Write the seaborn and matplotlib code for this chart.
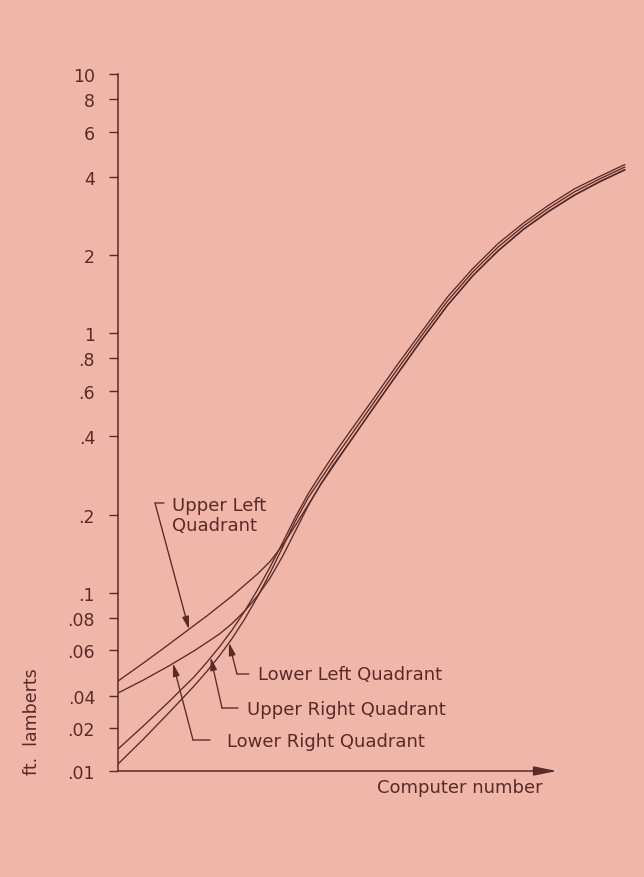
import numpy as np
import pandas as pd
import matplotlib
matplotlib.use("Agg")
import matplotlib.pyplot as plt
from matplotlib.ticker import NullLocator
import seaborn as sns

# ---------------- data ----------------
computer_number = [0, 5, 10, 15, 17.5, 20, 22.5, 25, 27.5, 30, 32.5, 35,
                   37.5, 40, 42.5, 45, 50, 55, 60, 65, 70, 75, 80, 85, 90, 95, 100]

upper_left = [0.0456, 0.0535, 0.0631, 0.0747, 0.0812, 0.0888, 0.0970, 0.1070,
              0.1179, 0.1318, 0.1526, 0.1815, 0.2177, 0.2611, 0.3077, 0.3627,
              0.5016, 0.6905, 0.9462, 1.280, 1.664, 2.077, 2.514, 2.949,
              3.400, 3.832, 4.263]
lower_right = [0.0410, 0.0460, 0.0521, 0.0596, 0.0642, 0.0692, 0.0760, 0.0849,
               0.0970, 0.1138, 0.1384, 0.1728, 0.2158, 0.2623, 0.3119, 0.3644,
               0.5038, 0.6936, 0.9505, 1.285, 1.671, 2.086, 2.525, 2.962,
               3.415, 3.849, 4.282]
upper_right = [0.0143, 0.0211, 0.0351, 0.0473, 0.0538, 0.0617, 0.0717, 0.0849,
               0.1023, 0.1255, 0.1561, 0.1957, 0.2401, 0.2866, 0.3394, 0.3982,
               0.5458, 0.7514, 1.0206, 1.380, 1.778, 2.220, 2.663, 3.124,
               3.602, 4.025, 4.476]
lower_left = [0.0112, 0.0168, 0.0278, 0.0436, 0.0496, 0.0570, 0.0665, 0.0791,
              0.0962, 0.1190, 0.1499, 0.1888, 0.2317, 0.2742, 0.3246, 0.3809,
              0.5244, 0.7219, 0.9849, 1.332, 1.724, 2.152, 2.593, 3.042,
              3.507, 3.936, 4.378]

tick_values = [10, 8, 6, 4, 2, 1, 0.8, 0.6, 0.4, 0.2, 0.1, 0.08, 0.06, 0.04, 0.02, 0.01]
tick_labels = ["10", "8", "6", "4", "2", "1", ".8", ".6", ".4", ".2",
               ".1", ".08", ".06", ".04", ".02", ".01"]

series = {
    "Upper Left Quadrant": upper_left,
    "Lower Right Quadrant": lower_right,
    "Upper Right Quadrant": upper_right,
    "Lower Left Quadrant": lower_left,
}

df = pd.concat(
    [pd.DataFrame({"cn": computer_number, "fl": vals, "quadrant": name})
     for name, vals in series.items()],
    ignore_index=True,
)

# ---------------- style ----------------
sns.set_theme(style="white")
plt.rcParams["font.family"] = ["DejaVu Sans"]

BG = "#F0B6A9"
INK = "#5A2A26"
W, H = 644, 878

fig = plt.figure(figsize=(W / 100, H / 100), dpi=100, facecolor=BG)
ax = fig.add_axes([118 / W, 1 - 772 / H, (635 - 118) / W, (772 - 75) / H])
ax.set_facecolor(BG)

# log axis whose bottom part (below .04) is compressed, as in the original
_lv = [-8.0, -2.0, np.log10(0.02), np.log10(0.04), 8.0]
_ax = [-4.958, -1.688, -1.524, -1.398, 8.0]


def fwd(v):
    v = np.clip(np.asarray(v, dtype=float), 1e-8, None)
    return np.interp(np.log10(v), _lv, _ax)


def inv(t):
    return 10 ** np.interp(np.asarray(t, dtype=float), _ax, _lv)


sns.lineplot(data=df, x="cn", y="fl", hue="quadrant",
             palette={k: INK for k in series}, legend=False,
             estimator=None, sort=True, linewidth=0.95, ax=ax)

ax.set_yscale("function", functions=(fwd, inv))
ax.set_ylim(0.01, 10)
ax.set_xlim(0, 102)
ax.set_yticks(tick_values)
ax.set_yticklabels(tick_labels)
ax.yaxis.set_minor_locator(NullLocator())
ax.set_xticks([])
ax.set_xlabel("")
ax.set_ylabel("")
ax.tick_params(axis="y", left=True, length=6.5, width=1.0, color=INK,
               pad=10, labelsize=12.5, labelcolor=INK, direction="out")
for s in ["top", "right", "bottom"]:
    ax.spines[s].set_visible(False)
ax.spines["left"].set_color(INK)
ax.spines["left"].set_linewidth(1.1)

# x axis drawn as an arrow
ax.annotate("", xy=(86.6, 0), xycoords=("data", "axes fraction"),
            xytext=(0, 0), textcoords=("data", "axes fraction"),
            arrowprops=dict(arrowstyle="-|>,head_length=1.4,head_width=0.28",
                            color=INK, lw=1.1, shrinkA=0, shrinkB=0,
                            mutation_scale=10),
            annotation_clip=False)


def fp(x, y):
    return (x / W, 1 - y / H)


fig.text(*fp(460, 788), "Computer number", ha="center", va="center",
         fontsize=13, color=INK)
fig.text(*fp(32, 722), "ft.  lamberts", ha="center", va="center",
         rotation=90, fontsize=12.5, color=INK)


def on_curve(name, x):
    xs = np.asarray(computer_number, float)
    ts = fwd(series[name])
    return (x, float(inv(np.interp(x, xs, ts))))


labels = [
    # name, tip x (computer number), corner px, end px, text px, text
    ("Upper Left Quadrant", 14.0, (155, 504), (164, 504), (172, 516), "Upper Left\nQuadrant"),
    ("Lower Left Quadrant", 21.9, (237, 675), (249, 675), (258, 675), "Lower Left Quadrant"),
    ("Upper Right Quadrant", 18.3, (222, 709), (238, 709), (247, 710), "Upper Right Quadrant"),
    ("Lower Right Quadrant", 10.85, (193, 741), (210, 741), (227, 742), "Lower Right Quadrant"),
]
for name, tx, corner, end, tpos, text in labels:
    ax.annotate("", xy=on_curve(name, tx), xycoords="data",
                xytext=fp(*corner), textcoords="figure fraction",
                arrowprops=dict(arrowstyle="-|>,head_length=0.75,head_width=0.2",
                                color=INK, lw=0.95, shrinkA=0, shrinkB=0,
                                mutation_scale=10),
                annotation_clip=False)
    ax.annotate("", xy=fp(*end), xycoords="figure fraction",
                xytext=fp(*corner), textcoords="figure fraction",
                arrowprops=dict(arrowstyle="-", color=INK, lw=0.95,
                                shrinkA=0, shrinkB=0),
                annotation_clip=False)
    fig.text(*fp(*tpos), text, ha="left", va="center", fontsize=13,
             color=INK, linespacing=1.2)

fig.savefig("out.png", dpi=100, facecolor=BG)
